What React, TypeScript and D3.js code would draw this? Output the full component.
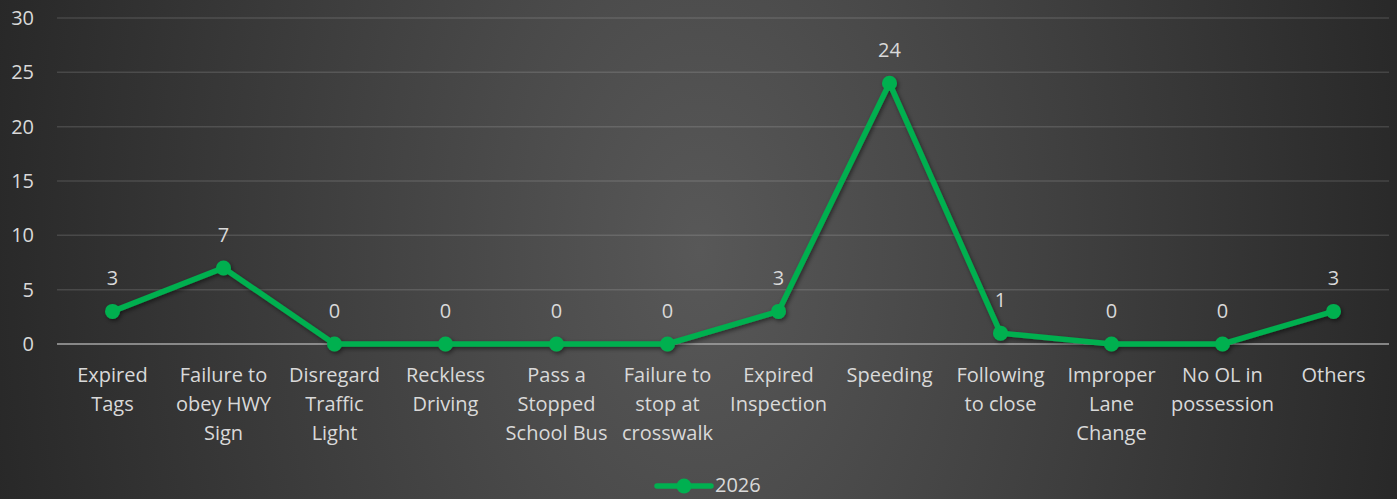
import React from "react";
import * as d3 from "d3";

const categories: string[][] = [
  ["Expired", "Tags"],
  ["Failure to", "obey HWY", "Sign"],
  ["Disregard", "Traffic", "Light"],
  ["Reckless", "Driving"],
  ["Pass a", "Stopped", "School Bus"],
  ["Failure to", "stop at", "crosswalk"],
  ["Expired", "Inspection"],
  ["Speeding"],
  ["Following", "to close"],
  ["Improper", "Lane", "Change"],
  ["No OL in", "possession"],
  ["Others"],
];
const values2026: number[] = [3, 7, 0, 0, 0, 0, 3, 24, 1, 0, 0, 3];
const yTicks: number[] = [0, 5, 10, 15, 20, 25, 30];
const seriesName = "2026";

const W = 1397;
const H = 499;
const M = { left: 57, right: 8, top: 18, bottom: 155 };
const GREEN = "#00B050";
const TEXT = "#d9d9d9";
const FONT = "'Open Sans', sans-serif";

export default function App() {
  const x = d3
    .scaleBand<number>()
    .domain(d3.range(categories.length))
    .range([M.left, W - M.right]);
  const y = d3.scaleLinear().domain([0, 30]).range([H - M.bottom, M.top]);
  const cx = (i: number) => (x(i) as number) + x.bandwidth() / 2;
  const line = d3
    .line<number>()
    .x((_, i) => cx(i))
    .y((d) => y(d));

  return (
    <svg
      width={W}
      height={H}
      style={{ position: "absolute", left: 0, top: 0, display: "block" }}
      fontFamily={FONT}
    >
      <defs>
        <radialGradient
          id="bg"
          gradientUnits="userSpaceOnUse"
          cx={700}
          cy={250}
          r={720}
          gradientTransform="translate(0 250) scale(1 1.6) translate(0 -250)"
        >
          <stop offset="0%" stopColor="#585858" />
          <stop offset="100%" stopColor="#282828" />
        </radialGradient>
        <filter id="sh" x="-10%" y="-10%" width="120%" height="130%">
          <feDropShadow dx="1.5" dy="2" stdDeviation="2" floodColor="#000" floodOpacity="0.5" />
        </filter>
      </defs>
      <rect width={W} height={H} fill="url(#bg)" />
      {yTicks.map((t) => (
        <g key={t}>
          {t !== 0 && (
            <line
              x1={M.left}
              x2={W - M.right}
              y1={y(t)}
              y2={y(t)}
              stroke="#ffffff"
              strokeOpacity={0.13}
              strokeWidth={1.5}
            />
          )}
          <text
            x={34}
            y={y(t)}
            dy="0.35em"
            textAnchor="end"
            fill={TEXT}
            fontSize={20}
          >
            {t}
          </text>
        </g>
      ))}
      <line
        x1={M.left}
        x2={W - M.right}
        y1={y(0)}
        y2={y(0)}
        stroke="#a6a6a6"
        strokeWidth={1.5}
      />
      {categories.map((lines, i) => (
        <text key={i} x={cx(i)} y={y(0) + 38} textAnchor="middle" fill={TEXT} fontSize={20}>
          {lines.map((l, j) => (
            <tspan key={j} x={cx(i)} dy={j === 0 ? 0 : 29}>
              {l}
            </tspan>
          ))}
        </text>
      ))}
      <g filter="url(#sh)">
        <path
          d={line(values2026) || ""}
          fill="none"
          stroke={GREEN}
          strokeWidth={5.5}
          strokeLinejoin="round"
          strokeLinecap="round"
        />
        {values2026.map((v, i) => (
          <circle key={i} cx={cx(i)} cy={y(v)} r={7.5} fill={GREEN} />
        ))}
      </g>
      {values2026.map((v, i) => (
        <text
          key={i}
          x={cx(i)}
          y={y(v) - 33}
          dy="0.35em"
          textAnchor="middle"
          fill={TEXT}
          fontSize={20}
        >
          {v}
        </text>
      ))}
      <g>
        <line x1={657} x2={711} y1={486} y2={486} stroke={GREEN} strokeWidth={5.5} strokeLinecap="round" />
        <circle cx={684} cy={486} r={7.5} fill={GREEN} />
        <text x={715} y={485} dy="0.35em" fill={TEXT} fontSize={20}>
          {seriesName}
        </text>
      </g>
    </svg>
  );
}
